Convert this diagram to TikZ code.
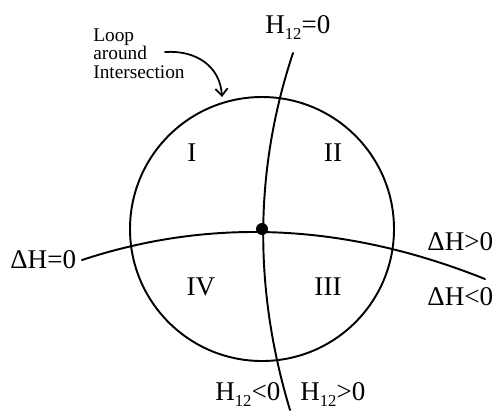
\documentclass[tikz,border=0pt]{standalone}
\usepackage{fontspec}
\setmainfont{Liberation Serif}
\usetikzlibrary{arrows.meta}

\newcommand{\lowsub}[1]{\raisebox{-0.55ex}{\fontsize{9.5}{9.5}\selectfont #1}}

\begin{document}
\begin{tikzpicture}[x=0.02cm,y=-0.02cm,line cap=round,line join=round,
    curve/.style={line width=1.1pt},
    pointer/.style={line width=1pt,-{Straight Barb[length=4pt,width=7pt]}},
    lbl/.style={font=\fontsize{15.4}{18}\selectfont,inner sep=0pt},
    note/.style={font=\fontsize{11}{10.8}\selectfont,align=left,inner sep=0pt}]
  \useasboundingbox (0,0) rectangle (493,410);
  % loop and the two zero lines
  \coordinate (O) at (262,229);
  \draw[curve] (O) circle (132);
  \coordinate (hTop) at (293,53);
  \coordinate (hBot) at (290,410);
  \draw[curve] (hTop) .. controls (254.3,169.4) and (253.3,288.4) .. (hBot);
  \coordinate (dL) at (82,260);
  \coordinate (dR) at (485,279);
  \draw[curve] (dL) .. controls (211.9,217.1) and (346.2,223.5) .. (dR);
  \fill (O) circle (6);
  % note with its arrow
  \node[note,anchor=north west] (note) at (93,28) {Loop\\around\\Intersection};
  \coordinate (aS) at (165,52);
  \coordinate (aE) at (222,97);
  \draw[pointer] (aS) .. controls (196,50) and (220,66) .. (aE);
  % regions
  \node[lbl] (r1) at (192,153) {I};
  \node[lbl] (r2) at (333,153) {II};
  \node[lbl] (r3) at (328,287) {III};
  \node[lbl] (r4) at (201,287) {IV};
  % line labels
  \node[lbl,anchor=base west] (h0) at (265,33) {H\lowsub{12}=0};
  \node[lbl,anchor=base west] (hneg) at (215,400) {H\lowsub{12}<0};
  \node[lbl,anchor=base west] (hpos) at (300,400) {H\lowsub{12}>0};
  \node[lbl,anchor=base west] (d0) at (10,268) {ΔH=0};
  \node[lbl,anchor=base west] (dpos) at (427,250) {ΔH>0};
  \node[lbl,anchor=base west] (dneg) at (427,305) {ΔH<0};
\end{tikzpicture}
\end{document}
